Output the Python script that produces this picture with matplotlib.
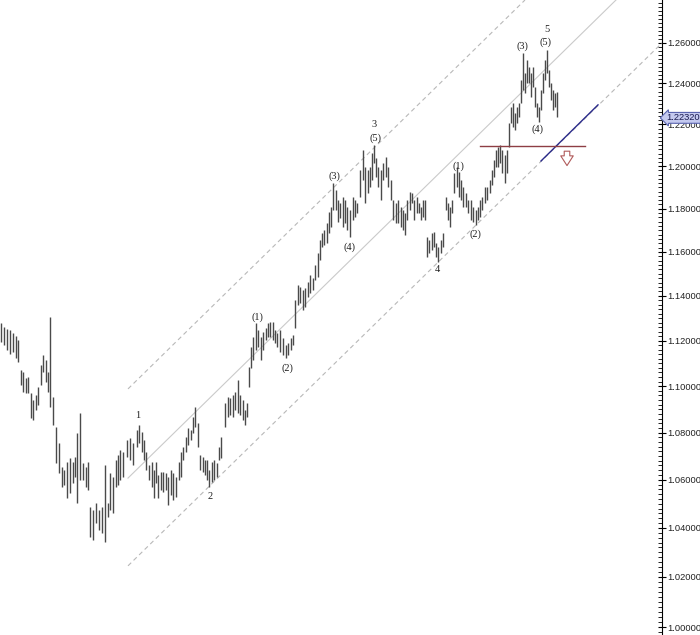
import matplotlib
matplotlib.use("Agg")
import matplotlib.pyplot as plt
import matplotlib.transforms as mtransforms
from matplotlib.ticker import FixedLocator, MultipleLocator, FormatStrFormatter, NullFormatter

# bar times (chart units) and high / low of every bar
t = [1, 4, 7, 10, 13, 16, 18, 21, 23, 26, 28, 31, 33, 36, 38, 41, 43, 46, 48,
     50, 53, 56, 59, 62, 64, 67, 70, 73, 75, 77, 80, 83, 86, 88, 90, 93, 96, 99,
     102, 105, 108, 110, 113, 116, 118, 120, 123, 127, 130, 133, 137, 139, 142,
     144, 146, 149, 152, 154, 156, 158, 161, 163, 166, 168, 171, 173, 176, 179,
     181, 183, 186, 188, 191, 193, 195, 198, 200, 203, 205, 207, 209, 212, 214,
     217, 219, 221, 225, 228, 230, 233, 235, 238, 240, 243, 245, 247, 249, 251,
     253, 256, 258, 261, 263, 266, 268, 270, 273, 275, 277, 280, 283, 286, 288,
     291, 293, 295, 298, 300, 303, 305, 308, 310, 313, 315, 318, 320, 322, 324,
     327, 329, 331, 333, 336, 338, 340, 343, 345, 347, 350, 353, 355, 357, 360,
     363, 365, 368, 370, 372, 374, 376, 378, 381, 383, 386, 388, 391, 393, 396,
     398, 401, 403, 405, 407, 410, 412, 414, 417, 419, 421, 423, 425, 427, 429,
     432, 434, 436, 438, 441, 443, 446, 448, 450, 452, 454, 457, 459, 461, 463,
     466, 468, 471, 473, 476, 478, 480, 482, 485, 487, 490, 492, 494, 496, 498,
     500, 502, 505, 507, 509, 511, 513, 515, 517, 519, 521, 523, 525, 527, 529,
     531, 533, 535, 537, 539, 541, 543, 545, 547, 549, 551, 553, 555, 557]

high = [1.1279, 1.1261, 1.1252, 1.1247, 1.1234, 1.1221, 1.1203, 1.1071, 1.1062,
        1.1036, 1.1040, 1.0971, 1.0940, 1.0962, 1.0997, 1.1093, 1.1137, 1.1115,
        1.1062, 1.1306, 1.0953, 1.0824, 1.0756, 1.0654, 1.0641, 1.0675, 1.0692,
        1.0675, 1.0696, 1.0798, 1.0884, 1.0671, 1.0654, 1.0675, 1.0487, 1.0474,
        1.0503, 1.0474, 1.0487, 1.0662, 1.0503, 1.0629, 1.0612, 1.0684, 1.0705,
        1.0726, 1.0717, 1.0768, 1.0777, 1.0756, 1.0811, 1.0832, 1.0802, 1.0768,
        1.0717, 1.0662, 1.0675, 1.0641, 1.0675, 1.0620, 1.0633, 1.0633, 1.0629,
        1.0612, 1.0641, 1.0629, 1.0612, 1.0675, 1.0717, 1.0739, 1.0781, 1.0820,
        1.0811, 1.0867, 1.0910, 1.0841, 1.0705, 1.0696, 1.0684, 1.0684, 1.0641,
        1.0675, 1.0684, 1.0671, 1.0739, 1.0781, 1.0927, 1.0953, 1.0949, 1.0962,
        1.0975, 1.1027, 1.0962, 1.0940, 1.0897, 1.0927, 1.1084, 1.1172, 1.1216,
        1.1279, 1.1247, 1.1216, 1.1238, 1.1256, 1.1279, 1.1283, 1.1283, 1.1247,
        1.1234, 1.1247, 1.1212, 1.1181, 1.1190, 1.1212, 1.1225, 1.1382, 1.1450,
        1.1441, 1.1427, 1.1436, 1.1464, 1.1496, 1.1482, 1.1541, 1.1595, 1.1655,
        1.1688, 1.1702, 1.1734, 1.1785, 1.1808, 1.1921, 1.1888, 1.1841, 1.1827,
        1.1855, 1.1841, 1.1808, 1.1794, 1.1855, 1.1841, 1.1827, 1.1983, 1.2078,
        1.1997, 1.1983, 1.1997, 1.2064, 1.2102, 1.2040, 1.1997, 1.1983, 1.2016,
        1.2045, 1.1997, 1.1935, 1.1841, 1.1827, 1.1841, 1.1808, 1.1794, 1.1780,
        1.1841, 1.1879, 1.1874, 1.1841, 1.1855, 1.1827, 1.1808, 1.1841, 1.1841,
        1.1669, 1.1655, 1.1688, 1.1693, 1.1641, 1.1623, 1.1655, 1.1688, 1.1855,
        1.1827, 1.1808, 1.1841, 1.1969, 1.1997, 1.1973, 1.1935, 1.1902, 1.1874,
        1.1841, 1.1841, 1.1808, 1.1794, 1.1808, 1.1841, 1.1855, 1.1902, 1.1902,
        1.1935, 1.1983, 1.2030, 1.2078, 1.2092, 1.2102, 1.2078, 1.2054, 1.2078,
        1.2207, 1.2285, 1.2305, 1.2256, 1.2285, 1.2305, 1.2417, 1.2550, 1.2451,
        1.2516, 1.2481, 1.2451, 1.2481, 1.2383, 1.2305, 1.2285, 1.2368, 1.2451,
        1.2516, 1.2565, 1.2466, 1.2402, 1.2368, 1.2353, 1.2358]

low = [1.1194, 1.1181, 1.1159, 1.1141, 1.1150, 1.1124, 1.1106, 1.1005, 1.0975,
       1.0971, 1.0971, 1.0863, 1.0854, 1.0897, 1.0919, 1.1005, 1.1062, 1.1018,
       1.0975, 1.0910, 1.0832, 1.0671, 1.0629, 1.0570, 1.0578, 1.0524, 1.0545,
       1.0587, 1.0612, 1.0504, 1.0599, 1.0599, 1.0570, 1.0558, 1.0363, 1.0351,
       1.0420, 1.0391, 1.0379, 1.0343, 1.0445, 1.0474, 1.0462, 1.0570, 1.0578,
       1.0599, 1.0612, 1.0696, 1.0684, 1.0662, 1.0739, 1.0756, 1.0717, 1.0684,
       1.0641, 1.0599, 1.0570, 1.0524, 1.0587, 1.0524, 1.0558, 1.0550, 1.0558,
       1.0495, 1.0537, 1.0516, 1.0528, 1.0599, 1.0612, 1.0684, 1.0717, 1.0747,
       1.0768, 1.0798, 1.0824, 1.0739, 1.0641, 1.0633, 1.0620, 1.0599, 1.0570,
       1.0591, 1.0599, 1.0612, 1.0684, 1.0692, 1.0824, 1.0867, 1.0875, 1.0867,
       1.0897, 1.0884, 1.0875, 1.0854, 1.0832, 1.0867, 1.0997, 1.1080, 1.1115,
       1.1159, 1.1172, 1.1115, 1.1159, 1.1203, 1.1216, 1.1216, 1.1203, 1.1190,
       1.1172, 1.1150, 1.1137, 1.1124, 1.1137, 1.1159, 1.1181, 1.1256, 1.1360,
       1.1369, 1.1337, 1.1351, 1.1396, 1.1414, 1.1427, 1.1473, 1.1486, 1.1564,
       1.1623, 1.1632, 1.1641, 1.1688, 1.1716, 1.1794, 1.1794, 1.1739, 1.1757,
       1.1716, 1.1734, 1.1702, 1.1669, 1.1748, 1.1762, 1.1780, 1.1855, 1.1935,
       1.1827, 1.1874, 1.1902, 1.1935, 1.2016, 1.1950, 1.1902, 1.1841, 1.1935,
       1.1950, 1.1902, 1.1841, 1.1748, 1.1734, 1.1734, 1.1716, 1.1702, 1.1678,
       1.1748, 1.1794, 1.1827, 1.1748, 1.1780, 1.1780, 1.1748, 1.1762, 1.1748,
       1.1577, 1.1595, 1.1609, 1.1623, 1.1577, 1.1555, 1.1595, 1.1623, 1.1794,
       1.1748, 1.1716, 1.1780, 1.1874, 1.1902, 1.1855, 1.1841, 1.1808, 1.1808,
       1.1780, 1.1748, 1.1739, 1.1725, 1.1748, 1.1762, 1.1794, 1.1827, 1.1841,
       1.1874, 1.1912, 1.1950, 1.1997, 1.1997, 1.2016, 1.1969, 1.1921, 1.1969,
       1.2092, 1.2207, 1.2188, 1.2174, 1.2207, 1.2237, 1.2305, 1.2368, 1.2353,
       1.2402, 1.2402, 1.2334, 1.2383, 1.2285, 1.2237, 1.2212, 1.2271, 1.2353,
       1.2417, 1.2451, 1.2383, 1.2319, 1.2271, 1.2285, 1.2237]

last_price = 1.22320
price_ticks = [1.00, 1.02, 1.04, 1.06, 1.08, 1.10, 1.12, 1.14, 1.16, 1.18,
               1.20, 1.22, 1.24, 1.26]

# trend channel (two points per line)
upper_t, upper_p = [128, 525], [1.0988, 1.2816]
mid_t, mid_p = [128, 616], [1.0607, 1.2816]
lower_t, lower_p = [128, 662], [1.0245, 1.2600]
blue_t, blue_p = [541, 598], [1.2025, 1.2295]
red_t, red_p = [480, 585], [1.2097, 1.2097]
arrow_t, arrow_p = 567, [1.2085, 1.1990]

# elliott wave counts
wave_labels = ["1", "2", "(1)", "(2)", "(3)", "(4)", "(5)", "3", "4",
               "(1)", "(2)", "(3)", "(4)", "(5)", "5"]
wave_t = [138, 210, 257, 287, 334, 350, 375, 374, 437, 458, 475, 522, 537, 546, 547]
wave_p = [1.0875, 1.0528, 1.1306, 1.1080, 1.1954, 1.1623, 1.2135, 1.2202,
          1.1518, 1.2001, 1.1683, 1.2585, 1.2178, 1.2605, 1.2665]

fig = plt.figure(figsize=(7, 6.35), dpi=100)
ax = fig.add_axes([0, 0, 662 / 700, 1])

ax.vlines(t, low, high, colors="#4a4a4a", linewidth=1.0, zorder=3)

ax.plot(upper_t, upper_p, color="#b8b8b8", lw=0.8, dashes=(4, 3), zorder=2)
ax.plot(mid_t, mid_p, color="#cacaca", lw=0.8, zorder=2)
ax.plot(lower_t, lower_p, color="#b8b8b8", lw=0.8, dashes=(4, 3), zorder=2)
ax.plot(blue_t, blue_p, color="#2a2a8a", lw=1.0, zorder=4)
ax.plot(red_t, red_p, color="#8e3e44", lw=1.0, zorder=4)

ax.annotate("", xy=(arrow_t, arrow_p[1]), xytext=(arrow_t, arrow_p[0]),
            arrowprops=dict(arrowstyle="simple,head_width=0.9,head_length=0.7,tail_width=0.4",
                            fc="white", ec="#b05a5a", lw=0.8))

for lab, x, y in zip(wave_labels, wave_t, wave_p):
    ax.text(x, y, lab, ha="center", va="center", fontsize=7.5,
            family="Liberation Serif", color="#202020", zorder=5)

ax.set_yscale("log")
ax.set_ylim(0.99684, 1.2816)
ax.set_xlim(0, 662)

ax.yaxis.tick_right()
ax.yaxis.set_major_locator(FixedLocator(price_ticks))
ax.yaxis.set_minor_locator(MultipleLocator(0.002))
ax.yaxis.set_major_formatter(FormatStrFormatter("%.5f"))
ax.yaxis.set_minor_formatter(NullFormatter())
ax.tick_params(axis="y", which="major", direction="inout", length=6, width=0.8,
               labelsize=6.7, pad=0.5, labelcolor="#222222")
ax.tick_params(axis="y", which="minor", direction="in", length=3, width=0.6)
ax.set_xticks([])
for lab in ax.get_yticklabels():
    lab.set_family("Liberation Sans")

for s in ["top", "left", "bottom"]:
    ax.spines[s].set_visible(False)
ax.spines["right"].set_linewidth(0.8)

trans = mtransforms.blended_transform_factory(ax.transAxes, ax.transData)
ax.text(1.006, last_price, "%.5f" % last_price, transform=trans, ha="left", va="center",
        fontsize=6.7, family="Liberation Sans", color="#1a1a50", zorder=10, clip_on=False,
        bbox=dict(boxstyle="larrow,pad=0.1", fc="#c4c9ef", ec="#5a64b0", lw=0.8))

fig.savefig("out.png", dpi=100)
